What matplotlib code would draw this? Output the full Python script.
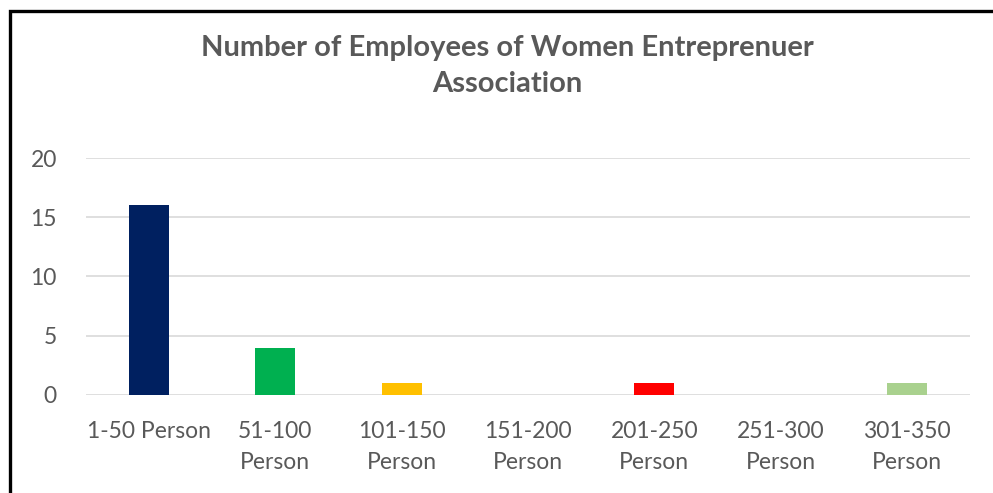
import matplotlib
matplotlib.use("Agg")
import matplotlib.pyplot as plt
from matplotlib.patches import Rectangle

categories = ["1-50 Person", "51-100\nPerson", "101-150\nPerson", "151-200\nPerson",
              "201-250\nPerson", "251-300\nPerson", "301-350\nPerson"]
employees = [16, 4, 1, 0, 1, 0, 1]
bar_colors = ["#002060", "#00B050", "#FFC000", "#FFC000", "#FF0000", "#FF0000", "#A9D18E"]
y_ticks = [0, 5, 10, 15, 20]

plt.rcParams["font.family"] = ["Lato", "DejaVu Sans"]
text_gray = "#595959"

fig = plt.figure(figsize=(9.93, 4.93), dpi=100)
ax = fig.add_axes([0.0866, 0.1988, 0.8902, 0.4807])

x = range(len(categories))
ax.bar(x, employees, width=0.317, color=bar_colors, zorder=3)

ax.set_xlim(-0.5, len(categories) - 0.5)
ax.set_ylim(0, 20)
ax.set_yticks(y_ticks)
ax.set_xticks(list(x))
ax.set_xticklabels(categories, linespacing=1.55)
ax.tick_params(axis="both", length=0, labelsize=16.5, colors=text_gray)
ax.tick_params(axis="x", pad=19)
ax.tick_params(axis="y", pad=21)
for lbl in ax.get_xticklabels():
    lbl.set_verticalalignment("top")

ax.grid(True, axis="y", color="#D9D9D9", linewidth=1.2, zorder=0)
for side in ax.spines.values():
    side.set_visible(False)

fig.text(0.511, 0.93,
         "Number of Employees of Women Entreprenuer\nAssociation",
         ha="center", va="top", fontsize=21, fontweight="bold",
         color=text_gray, linespacing=1.5)

# outer frame, open to the right and bottom
fig.add_artist(Rectangle((9.5 / 993, -0.2), 1.2, 1.2 - 11 / 493,
                         transform=fig.transFigure, fill=False,
                         edgecolor="black", linewidth=2.4, clip_on=False))

fig.savefig("out.png", dpi=100)
